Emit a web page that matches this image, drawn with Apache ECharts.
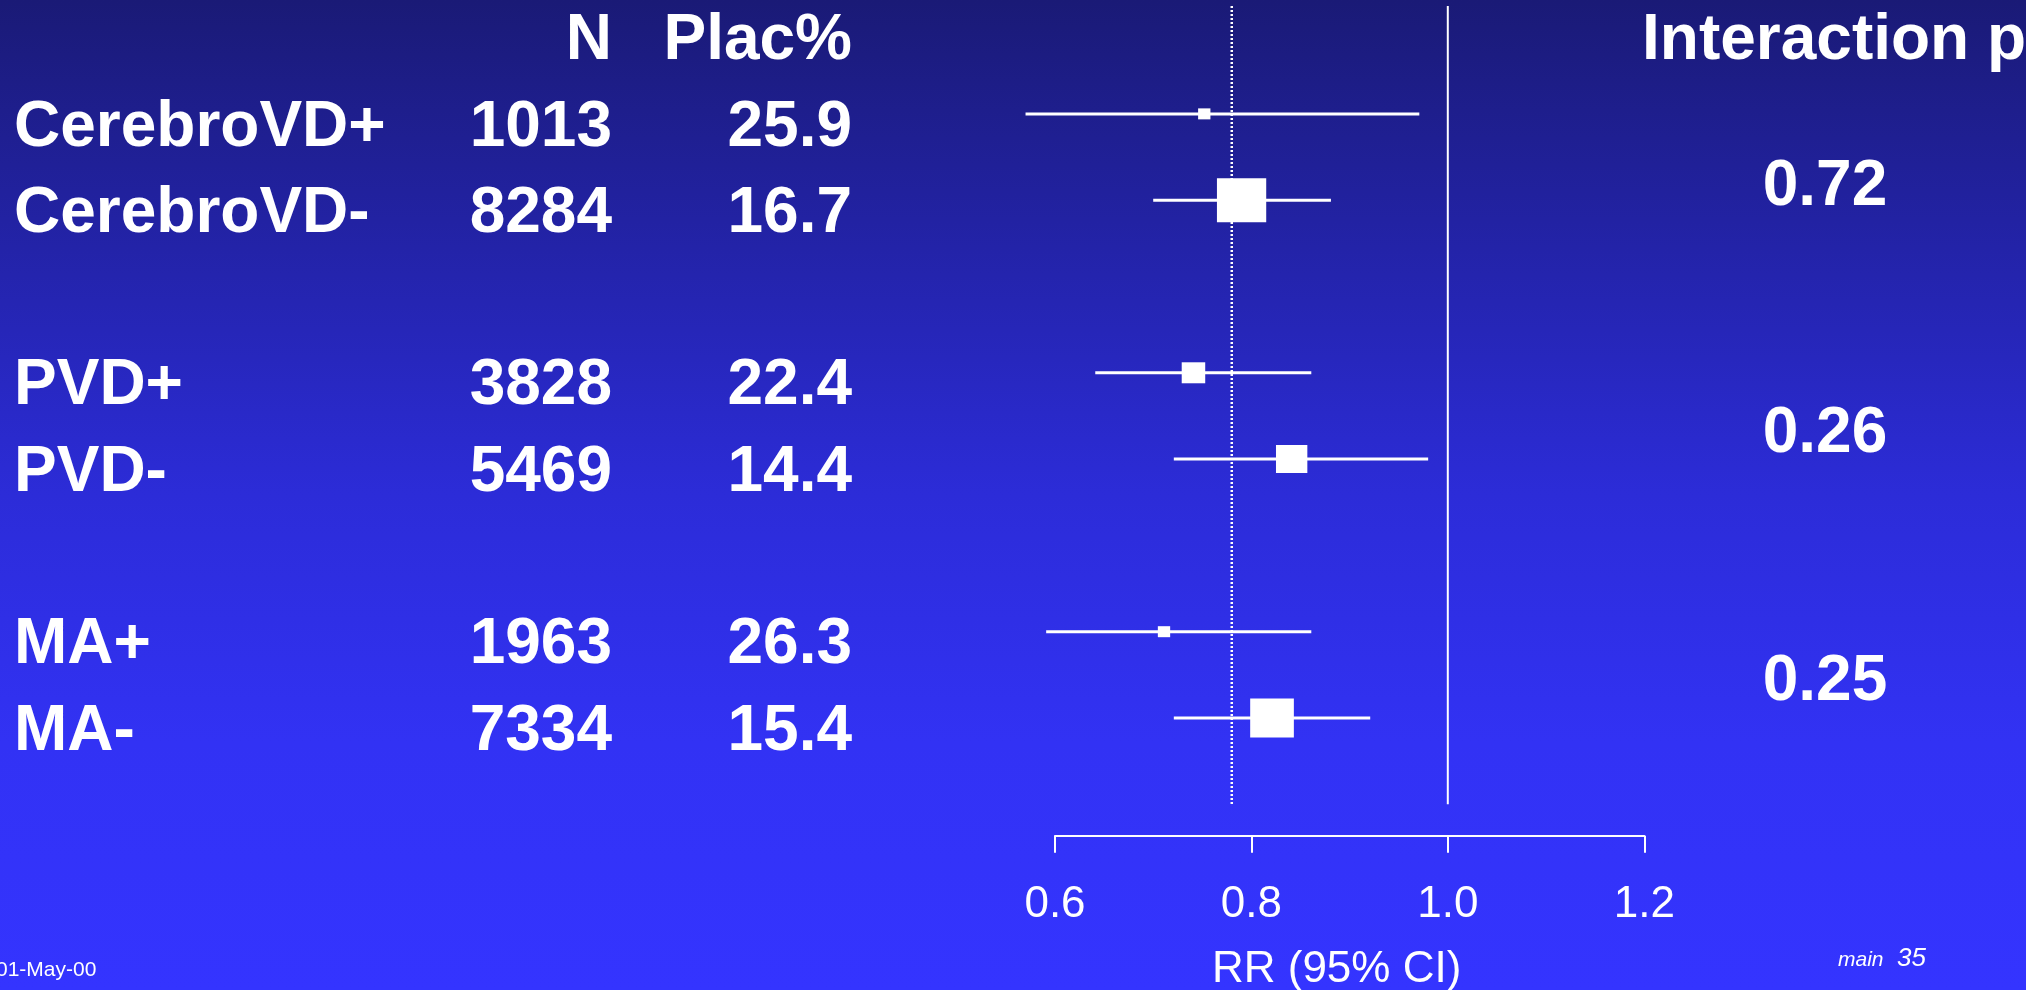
<!DOCTYPE html>
<html>
<head>
<meta charset="utf-8">
<title>Subgroup forest plot</title>
<script src="https://cdn.jsdelivr.net/npm/echarts@6/dist/echarts.min.js"></script>
<style>
  html, body { margin: 0; padding: 0; width: 2026px; height: 990px; overflow: hidden; }
  #chart {
    width: 2026px; height: 990px;
    background: linear-gradient(to bottom, #1a1a76 0%, #2323a8 25%, #2c2cd8 50%, #3232f4 75%, #3434ff 100%);
  }
</style>
</head>
<body>
<div id="chart"></div>
<script>
// ---- data -------------------------------------------------------------
const subgroups    = ['CerebroVD+', 'CerebroVD-', 'PVD+', 'PVD-', 'MA+', 'MA-'];
const rowSlot      = [0, 1, 3, 4, 6, 7];            // blank slot between each pair
const nPatients    = ['1013', '8284', '3828', '5469', '1963', '7334'];
const placeboPct   = ['25.9', '16.7', '22.4', '14.4', '26.3', '15.4'];
const rr           = [0.752, 0.790, 0.741, 0.841, 0.711, 0.821];
const ciLow        = [0.570, 0.700, 0.641, 0.721, 0.591, 0.721];
const ciHigh       = [0.971, 0.881, 0.861, 0.980, 0.861, 0.921];
const boxWeight    = [11, 44, 21, 28, 11, 39];       // relative weight of each estimate
const interactionP = ['0.72', '0.26', '0.25'];
const overallRR    = 0.78;
const xTicks       = [0.6, 0.8, 1.0, 1.2];
const axisTitle    = 'RR (95% CI)';

// ---- layout -----------------------------------------------------------
const FONT = '"Liberation Sans", Arial, Helvetica, sans-serif';
const pSlot = [0.69, 3.55, 6.43];                   // where each p value sits between its pair
const slotMin = -1.25, slotMax = 8;

const chart = echarts.init(document.getElementById('chart'), null, { renderer: 'canvas' });

const forestData = subgroups.map((_, i) => [rowSlot[i], ciLow[i], rr[i], ciHigh[i], boxWeight[i]]);

chart.setOption({
  backgroundColor: 'transparent',
  animation: false,
  grid: [
    { left: 956.8, right: 283.6, top: 6, bottom: 185.7, containLabel: false, outerBoundsMode: 'none' },   // estimates
    { left: 1055, right: 381.7, top: 6, bottom: 154.3, containLabel: false, outerBoundsMode: 'none' }     // RR scale
  ],
  xAxis: [
    { type: 'value', gridIndex: 0, min: 0.5, max: 1.3, show: false },
    {
      type: 'value', gridIndex: 1, min: 0.6, max: 1.2, interval: 0.2,
      position: 'bottom',
      axisLine: { show: true, onZero: false, lineStyle: { color: '#ffffff', width: 2 } },
      axisTick: { show: true, inside: false, length: 17, lineStyle: { color: '#ffffff', width: 2 }, customValues: xTicks },
      axisLabel: {
        show: true, margin: 47, color: '#ffffff', fontSize: 44, lineHeight: 44,
        fontFamily: FONT, customValues: xTicks,
        formatter: v => Number(v).toFixed(1)
      },
      splitLine: { show: false },
      name: axisTitle, nameLocation: 'middle', nameGap: 112,
      nameTextStyle: { color: '#ffffff', fontSize: 44, lineHeight: 44, fontFamily: FONT, padding: [0, 26, 0, 0] }
    }
  ],
  yAxis: [
    { type: 'value', gridIndex: 0, min: slotMin, max: slotMax, inverse: true, show: false },
    { type: 'value', gridIndex: 1, min: 0, max: 1, show: false }
  ],
  series: [
    {
      // overall estimate, dotted
      type: 'line', xAxisIndex: 0, yAxisIndex: 0, symbol: 'none', silent: true,
      data: [[overallRR, slotMin], [overallRR, slotMax]],
      lineStyle: { color: '#ffffff', width: 2.5, type: [2, 2] }, z: 1
    },
    {
      // line of no effect
      type: 'line', xAxisIndex: 0, yAxisIndex: 0, symbol: 'none', silent: true,
      data: [[1.0, slotMin], [1.0, slotMax]],
      lineStyle: { color: '#ffffff', width: 2 }, z: 1
    },
    {
      type: 'custom', xAxisIndex: 0, yAxisIndex: 0, z: 3,
      data: forestData,
      encode: { x: [1, 2, 3], y: 0 },
      renderItem: function (params, api) {
        const slot = api.value(0);
        const lo = api.coord([api.value(1), slot]);
        const pt = api.coord([api.value(2), slot]);
        const hi = api.coord([api.value(3), slot]);
        const h = api.value(4);
        const w = h * 1.12;
        return {
          type: 'group',
          children: [
            { type: 'line', shape: { x1: lo[0], y1: lo[1], x2: hi[0], y2: hi[1] },
              style: { stroke: '#ffffff', lineWidth: 3 } },
            { type: 'rect', shape: { x: pt[0] - w / 2, y: pt[1] - h / 2, width: w, height: h },
              style: { fill: '#ffffff' } }
          ]
        };
      }
    },
    { type: 'scatter', xAxisIndex: 1, yAxisIndex: 1, data: [], silent: true }
  ]
});

// ---- table text, placed on the same row scale as the estimates --------
const rowY = s => chart.convertToPixel({ gridIndex: 0 }, [1, s])[1];
const TEXT_DY = 14;
const bold = 'bold 64px ' + FONT;

function txt(text, x, y, align, font) {
  return {
    type: 'text', x: x, y: y, silent: true,
    style: { text: text, fill: '#ffffff', font: font, align: align, verticalAlign: 'middle' }
  };
}

const g = [];
// header row
g.push(txt('N', 612, rowY(-1) + TEXT_DY, 'right', bold));
g.push(txt('Plac%', 852, rowY(-1) + TEXT_DY, 'right', bold));
g.push(txt('Interaction p', 1642, rowY(-1) + TEXT_DY, 'left', bold));
// subgroup rows
subgroups.forEach((name, i) => {
  const y = rowY(rowSlot[i]) + TEXT_DY;
  g.push(txt(name, 14, y, 'left', bold));
  g.push(txt(nPatients[i], 612, y, 'right', bold));
  g.push(txt(placeboPct[i], 852, y, 'right', bold));
});
// interaction p values
interactionP.forEach((p, k) => {
  g.push(txt(p, 1825, rowY(pSlot[k]) + TEXT_DY, 'center', bold));
});
// footer
g.push(txt('01-May-00', -4, 970.5, 'left', '21px ' + FONT));
g.push(txt('main', 1838, 960.5, 'left', 'italic 21px ' + FONT));
g.push(txt('35', 1897, 958.6, 'left', 'italic 26px ' + FONT));

chart.setOption({ graphic: { elements: g } });
</script>
</body>
</html>
